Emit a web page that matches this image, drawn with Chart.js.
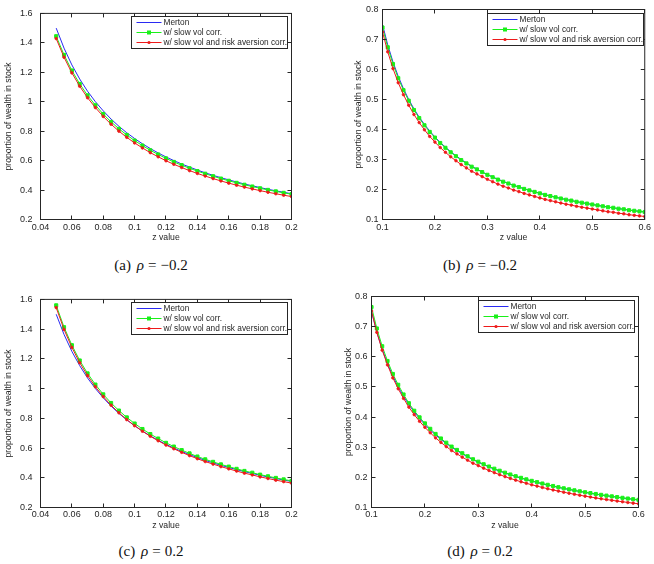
<!DOCTYPE html>
<html>
<head>
<meta charset="utf-8">
<script src="https://cdn.jsdelivr.net/npm/chart.js@4.4.1/dist/chart.umd.min.js"></script>
<style>
  html, body { margin: 0; padding: 0; background: #ffffff; }
  body { width: 654px; height: 564px; position: relative; overflow: hidden; }
  canvas { position: absolute; }
  .cap { position: absolute; width: 200px; text-align: center; font-family: "Liberation Serif", "DejaVu Serif", serif; font-size: 15px; line-height: 16px; color: #111; white-space: nowrap; }
  .cap i { font-style: italic; margin-left: 2px; }
  .cap .eq { margin: 0 4px; }
</style>
</head>
<body>
<canvas id="pa" width="327" height="250" style="left:0px;top:0px"></canvas>
<canvas id="pb" width="327" height="250" style="left:327px;top:0px"></canvas>
<canvas id="pc" width="327" height="250" style="left:0px;top:286px"></canvas>
<canvas id="pd" width="327" height="250" style="left:327px;top:286px"></canvas>
<div class="cap" style="left:51px;top:257px">(a) <i>ρ</i><span class="eq">=</span>−0.2</div>
<div class="cap" style="left:380px;top:257px">(b) <i>ρ</i><span class="eq">=</span>−0.2</div>
<div class="cap" style="left:51px;top:543px">(c) <i>ρ</i><span class="eq">=</span>0.2</div>
<div class="cap" style="left:380px;top:543px">(d) <i>ρ</i><span class="eq">=</span>0.2</div>
<script>
// ---------------- data ----------------
const seriesLabels = ["Merton", "w/ slow vol corr.", "w/ slow vol and risk aversion corr."];
const xTitle = "z value";
const yTitle = "proportion of wealth in stock";

// z grid for panels (a) and (c)
const zShort = [0.05,0.055,0.06,0.065,0.07,0.075,0.08,0.085,0.09,0.095,0.1,0.105,0.11,0.115,0.12,0.125,0.13,0.135,0.14,0.145,0.15,0.155,0.16,0.165,0.17,0.175,0.18,0.185,0.19,0.195,0.2];
const mertonShort = [1.5,1.364,1.25,1.154,1.071,1.0,0.938,0.882,0.833,0.789,0.75,0.714,0.682,0.652,0.625,0.6,0.577,0.556,0.536,0.517,0.5,0.484,0.469,0.455,0.441,0.429,0.417,0.405,0.395,0.385,0.375];
// (a) rho = -0.2
const slowVolA = [1.445,1.318,1.212,1.121,1.043,0.976,0.916,0.863,0.816,0.774,0.736,0.702,0.670,0.642,0.615,0.591,0.569,0.548,0.529,0.511,0.494,0.478,0.463,0.449,0.436,0.424,0.412,0.401,0.391,0.381,0.372];
const slowVolRaA = [1.429,1.302,1.196,1.105,1.027,0.960,0.900,0.847,0.800,0.758,0.720,0.686,0.654,0.626,0.599,0.575,0.553,0.532,0.513,0.495,0.478,0.462,0.447,0.433,0.420,0.408,0.396,0.385,0.375,0.365,0.356];
// (c) rho = 0.2
const slowVolC = [1.560,1.413,1.292,1.189,1.102,1.027,0.961,0.903,0.852,0.806,0.765,0.728,0.694,0.664,0.635,0.610,0.586,0.564,0.543,0.524,0.507,0.490,0.475,0.460,0.446,0.434,0.421,0.410,0.399,0.389,0.379];
const slowVolRaC = [1.545,1.398,1.277,1.174,1.087,1.012,0.946,0.888,0.837,0.791,0.750,0.713,0.679,0.649,0.620,0.595,0.571,0.549,0.528,0.509,0.492,0.475,0.460,0.445,0.431,0.419,0.406,0.395,0.384,0.374,0.364];

// z grid for panels (b) and (d)
const zLong = [0.1,0.11,0.12,0.13,0.14,0.15,0.16,0.17,0.18,0.19,0.2,0.21,0.22,0.23,0.24,0.25,0.26,0.27,0.28,0.29,0.3,0.31,0.32,0.33,0.34,0.35,0.36,0.37,0.38,0.39,0.4,0.41,0.42,0.43,0.44,0.45,0.46,0.47,0.48,0.49,0.5,0.51,0.52,0.53,0.54,0.55,0.56,0.57,0.58,0.59,0.6];
const mertonLong = [0.75,0.682,0.625,0.577,0.536,0.5,0.469,0.441,0.417,0.395,0.375,0.357,0.341,0.326,0.3125,0.3,0.2885,0.2778,0.2679,0.2586,0.25,0.2419,0.2344,0.2273,0.2206,0.2143,0.2083,0.2027,0.1974,0.1923,0.1875,0.1829,0.1786,0.1744,0.1705,0.1667,0.163,0.1596,0.1563,0.1531,0.15,0.1471,0.1442,0.1415,0.1389,0.1364,0.1339,0.1316,0.1293,0.1271,0.125];
// (b) rho = -0.2
const slowVolB = [0.740,0.674,0.618,0.571,0.531,0.496,0.465,0.438,0.414,0.392,0.373,0.355,0.339,0.324,0.311,0.298,0.287,0.276,0.267,0.258,0.249,0.241,0.233,0.226,0.220,0.213,0.208,0.202,0.197,0.192,0.187,0.182,0.178,0.174,0.170,0.166,0.163,0.159,0.156,0.153,0.150,0.147,0.144,0.141,0.139,0.136,0.134,0.131,0.129,0.127,0.125];
const slowVolRaB = [0.725,0.659,0.603,0.556,0.516,0.481,0.450,0.423,0.399,0.377,0.358,0.340,0.324,0.309,0.296,0.283,0.272,0.261,0.252,0.243,0.234,0.226,0.218,0.211,0.205,0.198,0.193,0.187,0.182,0.177,0.172,0.167,0.163,0.159,0.155,0.151,0.148,0.144,0.141,0.138,0.135,0.132,0.129,0.126,0.124,0.121,0.119,0.116,0.114,0.112,0.110];
// (d) rho = 0.2
const slowVolD = [0.765,0.694,0.635,0.586,0.543,0.507,0.475,0.446,0.421,0.399,0.379,0.361,0.344,0.329,0.315,0.302,0.291,0.280,0.270,0.260,0.252,0.2435,0.2359,0.2287,0.2219,0.2155,0.2095,0.2038,0.1984,0.1933,0.1884,0.184,0.1795,0.1752,0.1713,0.1674,0.1637,0.1603,0.1569,0.1537,0.1506,0.1477,0.1448,0.142,0.1394,0.1369,0.1344,0.1321,0.1297,0.1275,0.1254];
const slowVolRaD = [0.752,0.681,0.622,0.573,0.530,0.494,0.462,0.433,0.408,0.386,0.366,0.348,0.331,0.316,0.302,0.289,0.278,0.267,0.257,0.247,0.239,0.2305,0.2229,0.2157,0.2089,0.2025,0.1965,0.1908,0.1854,0.1803,0.1754,0.171,0.1665,0.1622,0.1583,0.1544,0.1507,0.1473,0.1439,0.1407,0.1376,0.1347,0.1318,0.129,0.1264,0.1239,0.1214,0.1191,0.1167,0.1145,0.1124];

// ---------------- style ----------------
const AXIS = '#262626';
const TEXT = '#262626';
const BLUE = '#2a2af2';
const GREEN = '#19f019';
const RED = '#ee1a1a';
const FONT = '"Liberation Sans", Arial, Helvetica, sans-serif';
Chart.defaults.font.family = FONT;
Chart.defaults.color = TEXT;

const fmt = v => String(parseFloat(Number(v).toFixed(6)));
const toXY = (zs, ys) => zs.map((z, i) => ({ x: z, y: ys[i] }));

const framePlugin = {
  id: 'frame',
  afterDatasetsDraw(chart, args, opts) {
    const ctx = chart.ctx;
    const { left, right, top, bottom } = chart.chartArea;
    const xs = chart.scales.x, ys = chart.scales.y;
    const L = 4;
    ctx.save();
    ctx.strokeStyle = AXIS;
    ctx.lineWidth = 1;
    ctx.beginPath();
    xs.ticks.forEach(t => {
      const px = Math.round(xs.getPixelForValue(t.value) - 0.5) + 0.5;
      ctx.moveTo(px, bottom); ctx.lineTo(px, bottom - L);
      ctx.moveTo(px, top); ctx.lineTo(px, top + L);
    });
    ys.ticks.forEach(t => {
      const py = Math.round(ys.getPixelForValue(t.value) - 0.5) + 0.5;
      ctx.moveTo(left, py); ctx.lineTo(left + L, py);
      ctx.moveTo(right, py); ctx.lineTo(right - L, py);
    });
    ctx.stroke();
    ctx.strokeRect(left, top, right - left, bottom - top);

    // legend box (MATLAB style, north-east)
    const bw = 156, bh = 32;
    const bx = Math.round(right - opts.gap - bw) + 0.5;
    const by = Math.round(top + 3) + 0.5;
    ctx.fillStyle = '#ffffff';
    ctx.fillRect(bx, by, bw, bh);
    ctx.strokeStyle = AXIS;
    ctx.strokeRect(bx, by, bw, bh);
    ctx.font = '8.3px ' + FONT;
    ctx.textBaseline = 'middle';
    ctx.textAlign = 'left';
    chart.data.datasets.forEach((ds, i) => {
      const yy = by + 6 + 10 * i;
      ctx.strokeStyle = ds.borderColor;
      ctx.lineWidth = 1;
      ctx.beginPath();
      ctx.moveTo(bx + 5, yy); ctx.lineTo(bx + 30, yy);
      ctx.stroke();
      if (ds.pointRadius > 0) {
        ctx.fillStyle = ds.borderColor;
        if (ds.pointStyle === 'rect') {
          ctx.fillRect(bx + 17.5 - 2, yy - 2, 4, 4);
        } else {
          ctx.beginPath(); ctx.arc(bx + 17.5, yy, 1.6, 0, Math.PI * 2); ctx.fill();
        }
      }
      ctx.fillStyle = TEXT;
      ctx.fillText(ds.label, bx + 32, yy + 0.5);
    });
    ctx.restore();
  }
};

function makePanel(id, p) {
  const datasets = [
    { label: seriesLabels[0], data: toXY(p.z, p.merton), borderColor: BLUE, backgroundColor: BLUE,
      borderWidth: 1, pointRadius: 0, order: 2 },
    { label: seriesLabels[1], data: toXY(p.z, p.green), borderColor: GREEN, backgroundColor: GREEN,
      borderWidth: 1, pointStyle: 'rect', pointRadius: 2.2, pointBorderWidth: 1, pointBackgroundColor: GREEN, pointBorderColor: GREEN, order: 1 },
    { label: seriesLabels[2], data: toXY(p.z, p.red), borderColor: RED, backgroundColor: RED,
      borderWidth: 1, pointStyle: 'circle', pointRadius: 1.3, pointBorderWidth: 0.8, pointBackgroundColor: RED, pointBorderColor: RED, order: 0 }
  ];
  new Chart(document.getElementById(id), {
    type: 'line',
    data: { datasets },
    plugins: [framePlugin],
    options: {
      responsive: false,
      animation: false,
      devicePixelRatio: 1,
      layout: { padding: { left: p.padL, top: p.padT, right: p.padR, bottom: 0 } },
      plugins: { legend: { display: false }, tooltip: { enabled: false }, frame: { gap: p.gap } },
      elements: { line: { tension: 0 } },
      scales: {
        x: {
          type: 'linear', min: p.xMin, max: p.xMax,
          grid: { display: false, drawTicks: false },
          border: { display: false },
          ticks: { stepSize: p.xStep, padding: p.xTickPad, font: { size: 9 }, color: TEXT, maxRotation: 0, autoSkip: false, callback: v => fmt(v) },
          title: { display: true, text: xTitle, font: { size: 8.7 }, color: TEXT, padding: { top: 0, bottom: p.xTitlePad } },
          afterFit: s => { s.height = p.xH; }
        },
        y: {
          type: 'linear', min: p.yMin, max: p.yMax,
          grid: { display: false, drawTicks: false },
          border: { display: false },
          ticks: { stepSize: p.yStep, padding: p.yTickPad, font: { size: 9 }, color: TEXT, autoSkip: false, callback: v => fmt(v) },
          title: { display: true, text: yTitle, font: { size: 8.7 }, color: TEXT, padding: { top: 3, bottom: 0 } },
          afterFit: s => { s.width = p.yW; }
        }
      }
    }
  });
}

makePanel('pa', { z: zShort, merton: mertonShort, green: slowVolA, red: slowVolRaA,
  xMin: 0.04, xMax: 0.2, xStep: 0.02, yMin: 0.2, yMax: 1.6, yStep: 0.2,
  padL: 0, padT: 9.5, padR: 35.5, yW: 40.5, xH: 30.5, xTitlePad: 7.5, xTickPad: 3, yTickPad: 8, gap: 4.5 });
makePanel('pb', { z: zLong, merton: mertonLong, green: slowVolB, red: slowVolRaB,
  xMin: 0.1, xMax: 0.6, xStep: 0.1, yMin: 0.1, yMax: 0.8, yStep: 0.1,
  padL: 23.5, padT: 9.5, padR: 8.5, yW: 32, xH: 30.5, xTitlePad: 7.5, xTickPad: 3, yTickPad: 4, gap: 2 });
makePanel('pc', { z: zShort, merton: mertonShort, green: slowVolC, red: slowVolRaC,
  xMin: 0.04, xMax: 0.2, xStep: 0.02, yMin: 0.2, yMax: 1.6, yStep: 0.2,
  padL: 0, padT: 10.5, padR: 35.5, yW: 40.5, xH: 28.5, xTitlePad: 5.5, xTickPad: 1.5, yTickPad: 8, gap: 4.5 });
makePanel('pd', { z: zLong, merton: mertonLong, green: slowVolD, red: slowVolRaD,
  xMin: 0.1, xMax: 0.6, xStep: 0.1, yMin: 0.1, yMax: 0.8, yStep: 0.1,
  padL: 13.5, padT: 10.5, padR: 15.5, yW: 31, xH: 28.5, xTitlePad: 5.5, xTickPad: 1.5, yTickPad: 4, gap: 4.5 });
</script>
</body>
</html>
